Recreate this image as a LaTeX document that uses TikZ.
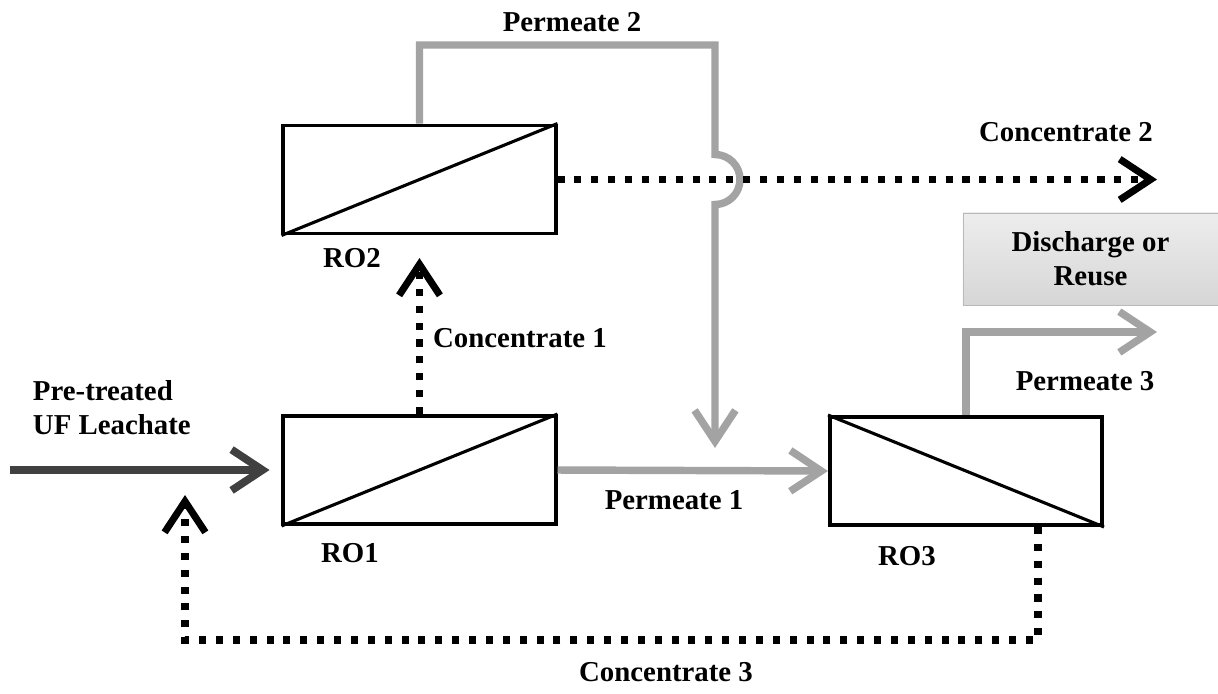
\documentclass[tikz,border=0pt]{standalone}
\usepackage{fontspec}
\setmainfont{Liberation Serif}
\usetikzlibrary{arrows.meta,calc}

\definecolor{permgray}{HTML}{A3A3A3}
\definecolor{feedgray}{HTML}{404040}

\begin{document}
\begin{tikzpicture}[
  x=0.025cm, y=-0.025cm,
  >={Straight Barb[length=22pt,width=29pt]},
  every node/.style={font=\bfseries\fontsize{20.5}{24}\selectfont},
  mod/.style={rectangle,draw,line width=2.8pt,minimum width=6.8cm,minimum height=2.7cm,inner sep=0pt},
  disch/.style={rectangle,draw=gray!55,line width=0.6pt,top color=gray!14,bottom color=gray!32,minimum width=6.375cm,minimum height=2.3cm,align=center},
  perm/.style={->,draw=permgray,line width=5.3pt},
  conc/.style={->,line width=5pt,dash pattern=on 5pt off 7pt},
  feed/.style={->,draw=feedgray,line width=5.5pt,shorten >=8.5pt}
]
\useasboundingbox (0,0) rectangle (1218,693);
\node[mod] (ro2) at (419.5,179.5) {};
\node[mod] (ro1) at (419.5,470) {};
\node[mod] (ro3) at (966,471) {};
\draw[line width=2.2pt] (ro2.south west) -- (ro2.north east);
\draw[line width=2.2pt] (ro1.south west) -- (ro1.north east);
\draw[line width=2.2pt] (ro3.north west) -- (ro3.south east);
\node[disch] (out) at (1090.5,259) {Discharge or\\Reuse};
\node (lro2) at (352,258) {RO2};
\node (lro1) at (350,553) {RO1};
\node (lro3) at (907,556) {RO3};
\node[align=left,anchor=west] (lfeed) at (28,408) {Pre-treated\\UF Leachate};
\node (lp1) at (674,500) {Permeate 1};
\node (lp2) at (572,22) {Permeate 2};
\node (lp3) at (1085,381) {Permeate 3};
\node (lc1) at (520,338) {Concentrate 1};
\node (lc2) at (1066,132) {Concentrate 2};
\node (lc3) at (666,672) {Concentrate 3};
\coordinate (feedin) at (10,470);
\coordinate (p2top) at (715,45);
\coordinate (p2end) at (715,448);
\coordinate (p3end) at (1157,332);
\coordinate (c1end) at (419.5,258);
\coordinate (c2end) at (1157,179.5);
\coordinate (c3turn) at (1038,640);
\coordinate (c3end) at (185,495);
\draw[feed] (feedin) -- (ro1.west);
\draw[perm] (ro1.east) -- (ro3.west);
\draw[perm] (ro2.north) |- (p2top) -- ($(p2top |- ro2.east)+(0,-25)$)
  arc[start angle=-90,end angle=90,radius=25] -- (p2end);
\draw[perm] (ro3.north) |- (p3end);
\draw[conc] (ro1.north) -- (c1end);
\draw[conc] (ro2.east) -- (c2end);
\draw[conc] (ro3.south -| c3turn) -- (c3turn) -| (c3end);
\end{tikzpicture}
\end{document}
